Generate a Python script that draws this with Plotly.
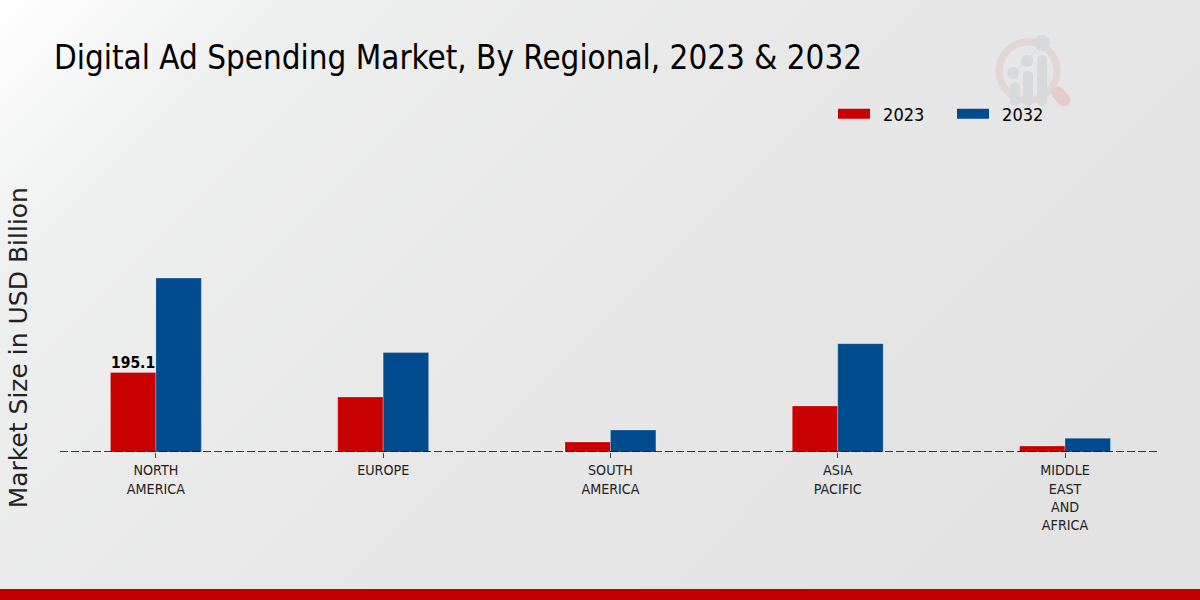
import base64

import plotly.graph_objects as go

# Values
regions = ["NORTH<br>AMERICA", "EUROPE", "SOUTH<br>AMERICA", "ASIA<br>PACIFIC", "MIDDLE<br>EAST<br>AND<br>AFRICA"]
spend_2023 = [195.1, 135, 24.5, 113, 14.7]
spend_2032 = [427, 244, 54, 266, 34]
label_2023 = "195.1"

CONDENSED = "DejaVu Sans Condensed, Liberation Sans Narrow, DejaVu Sans"

BACKGROUND_SVG = """<svg xmlns="http://www.w3.org/2000/svg" width="1200" height="600" viewBox="0 0 1200 600">
<defs><linearGradient id="g" gradientUnits="userSpaceOnUse" x1="0" y1="0" x2="760" y2="760">
<stop offset="0" stop-color="#ffffff"/><stop offset="0.2" stop-color="#eeefef"/>
<stop offset="0.5" stop-color="#e9e9e9"/><stop offset="1" stop-color="#e3e3e3"/></linearGradient></defs>
<rect width="1200" height="600" fill="url(#g)"/>
<rect y="589" width="1200" height="11" fill="#c00000"/>
<circle cx="1028" cy="71" r="29" fill="none" stroke="#e3d6d6" stroke-width="7"/>
<line x1="1058" y1="93" x2="1064" y2="100" stroke="#e6cdcd" stroke-width="13" stroke-linecap="round"/>
<g fill="#d7d9db">
<rect x="1010" y="82" width="10" height="24" rx="5"/><rect x="1023" y="71" width="10" height="35" rx="5"/><rect x="1037" y="55" width="10" height="51" rx="5"/>
<circle cx="1013" cy="73" r="6"/><circle cx="1027" cy="61" r="6"/><circle cx="1042" cy="43" r="8"/></g>
<polyline points="1013,73 1027,61 1042,43" fill="none" stroke="#d7d9db" stroke-width="1"/>
</svg>"""


def plot_regional_spending():
    """
    Grouped bars of ad spending per region for the two years.
    """
    # Create main figure
    fig = go.Figure()

    # Add bars for both years
    fig.add_trace(go.Bar(
        x=regions,
        y=spend_2023,
        marker=dict(
            color="#c80000",
            line=dict(color="rgba(255,255,255,0.5)", width=0.5)
        ),
        name="2023",
        showlegend=False
    ))
    fig.add_trace(go.Bar(
        x=regions,
        y=spend_2032,
        marker=dict(
            color="#004b8d",
            line=dict(color="rgba(255,255,255,0.5)", width=0.5)
        ),
        name="2032",
        showlegend=False
    ))

    # Legend entries, wide swatches come from thick lines
    fig.add_trace(go.Scatter(x=[None], y=[None], mode="lines", name="\u20022023",
                             line=dict(color="#c80000", width=13)))
    fig.add_trace(go.Scatter(x=[None], y=[None], mode="lines", name="\u20022032",
                             line=dict(color="#004b8d", width=13)))

    # Dashed zero line
    fig.add_hline(y=0, line_dash="8px,3px", line_color="black", line_width=1.5)

    # Value label over the first red bar
    fig.add_annotation(
        text=label_2023,
        x=regions[0], y=spend_2023[0], xshift=-23, yshift=-1,
        xanchor="center", yanchor="bottom", showarrow=False,
        font=dict(family=CONDENSED, size=15.5, color="black", weight="bold")
    )

    # Y axis title sits lower than the plot centre
    fig.add_annotation(
        text="Market Size in USD Billion",
        xref="paper", yref="paper", x=-0.038, y=0.295,
        xanchor="center", yanchor="middle", textangle=-90, showarrow=False,
        font=dict(family="DejaVu Sans", size=25, color="#222222")
    )

    # Background picture with gradient, bottom band and logo
    encoded = base64.b64encode(BACKGROUND_SVG.encode("utf-8")).decode("ascii")
    fig.add_layout_image(
        source="data:image/svg+xml;base64," + encoded,
        xref="paper", yref="paper", x=-60 / 1100, y=1 + 100 / 352,
        sizex=1200 / 1100, sizey=600 / 352, sizing="stretch",
        xanchor="left", yanchor="top", layer="below"
    )

    # Update layout
    fig.update_layout(
        title={
            'text': "Digital Ad Spending Market, By Regional, 2023 & 2032",
            'x': 54 / 1200,
            'xanchor': 'left',
            'y': 1 - 57 / 600,
            'yanchor': 'middle',
            'font': {'size': 32.9, 'family': CONDENSED, 'color': 'black'}
        },
        barmode="group",
        bargap=0.6,
        bargroupgap=0,
        height=600,
        width=1200,
        plot_bgcolor="rgba(0,0,0,0)",
        paper_bgcolor="rgba(0,0,0,0)",
        font=dict(family=CONDENSED, size=14, color="#222222"),
        margin=dict(l=60, r=40, t=100, b=148, autoexpand=False),
        legend=dict(
            orientation="h",
            x=(838 - 5 - 60) / 1100, xanchor="left",
            y=1 - 14 / 352, yanchor="middle",
            itemwidth=32,
            entrywidth=72,
            entrywidthmode="pixels",
            bgcolor="rgba(0,0,0,0)",
            font=dict(family=CONDENSED, size=18, color="black")
        )
    )

    fig.update_xaxes(range=[-0.422, 4.418], showgrid=False, zeroline=False, showline=False,
                     ticks="outside", ticklen=5, tickcolor="#444444", tickfont=dict(size=14.2))
    fig.update_yaxes(range=[0, 864], visible=False)

    # Save as HTML, the page itself must not add a margin
    fig.write_html("out.html", config={"displayModeBar": False},
                   post_script="document.body.style.margin = '0';")


plot_regional_spending()
